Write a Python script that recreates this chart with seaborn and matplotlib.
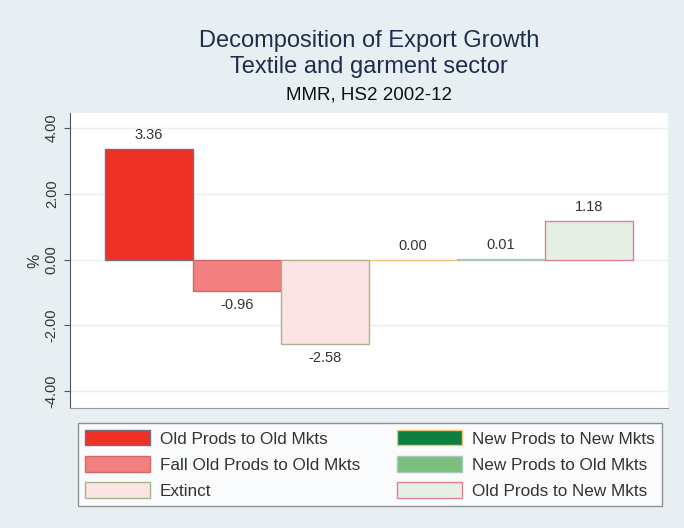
import pandas as pd
import numpy as np
import matplotlib
matplotlib.use('Agg')
import matplotlib.pyplot as plt
import seaborn as sns
from matplotlib.patches import Patch

# Data
categories = ['Old Prods to Old Mkts', 'Fall Old Prods to Old Mkts', 'Extinct',
              'New Prods to New Mkts', 'New Prods to Old Mkts', 'Old Prods to New Mkts']
values = [3.36, -0.96, -2.58, 0.00, 0.01, 1.18]
fill_colors = ['#ee3124', '#f28080', '#fde4e4', '#0b7f3f', '#7dbf7f', '#e6efe3']
edge_colors = ['#7a6a80', '#d06a6a', '#a9b38a', '#f2c27a', '#a9c8b8', '#e0809a']
yticks = [-4, -2, 0, 2, 4]

df = pd.DataFrame({'Category': categories, 'Value': values})

# Theme and figure
sns.set_theme(style='white')
plt.rcParams['font.family'] = ['Liberation Sans', 'DejaVu Sans']
fig = plt.figure(figsize=(6.84, 5.28), dpi=100, facecolor='#e8eff3')
ax = fig.add_axes([0.1023, 0.2273, 0.8743, 0.5587])
ax.set_facecolor('white')

# Bars
ax = sns.barplot(data=df, x='Category', y='Value', hue='Category', palette=fill_colors,
                 width=1.0, legend=False, ax=ax, saturation=1)
for patch, ec in zip(ax.patches, edge_colors):
    patch.set_edgecolor(ec)
    patch.set_linewidth(1.0)

# Value labels
for container in ax.containers:
    ax.bar_label(container, fmt='%.2f', fontsize=10.5, color='#333333', padding=5)

# Axes settings
ax.set_xlim(-0.9, 5.9)
ax.set_ylim(-4.52, 4.46)
ax.set_yticks(yticks)
ax.set_yticklabels([f'{t:.2f}' for t in yticks], rotation=90, va='center', fontsize=10.5, color='#333333')
ax.tick_params(axis='y', left=True, length=4, color='#555555', width=0.8, pad=4)
ax.set_xticks([])
ax.set_xlabel('')
ax.set_ylabel('%', fontsize=11.5, color='#333333', labelpad=2)
ax.grid(axis='y', color='#eaeeee', linewidth=1.0)
ax.set_axisbelow(True)
for side in ['top', 'right']:
    ax.spines[side].set_visible(False)
ax.spines['left'].set_color('#555555')
ax.spines['left'].set_linewidth(0.8)
ax.spines['bottom'].set_color('#999999')
ax.spines['bottom'].set_linewidth(0.8)

# Titles (centered over the plot area)
cx = 369 / 684
fig.text(cx, 1 - 41.5 / 528, 'Decomposition of Export Growth', ha='center', va='center', fontsize=17, color='#1f2d4d')
fig.text(cx, 1 - 66.5 / 528, 'Textile and garment sector', ha='center', va='center', fontsize=17, color='#1f2d4d')
fig.text(cx, 1 - 95 / 528, 'MMR, HS2 2002-12', ha='center', va='center', fontsize=13.5, color='#111111')

# Legend
handles = [Patch(facecolor=fc, edgecolor=ec, linewidth=1.0) for fc, ec in zip(fill_colors, edge_colors)]
leg = fig.legend(handles, categories, ncol=2, loc='center', mode='expand',
                 bbox_to_anchor=(78 / 684, 21 / 528, 584 / 684, 85 / 528), borderaxespad=0, fontsize=12.3,
                 handlelength=3.8, handleheight=1.0, labelspacing=0.56, columnspacing=1.0,
                 handletextpad=0.6, frameon=True, fancybox=False, borderpad=0.4)
leg.get_frame().set_edgecolor('#777777')
leg.get_frame().set_linewidth(1.0)
for t in leg.get_texts():
    t.set_color('#333333')

fig.savefig('out.png', dpi=100, facecolor=fig.get_facecolor())
